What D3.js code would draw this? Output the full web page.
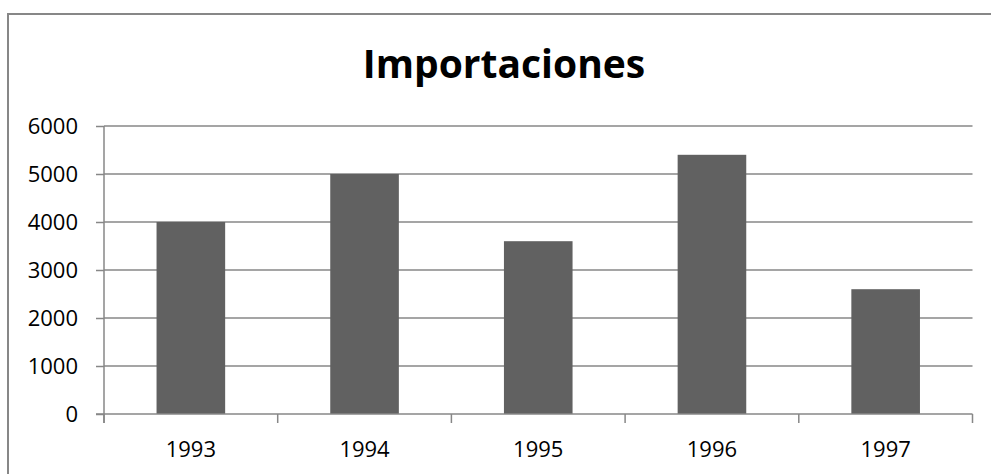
<!DOCTYPE html>
<html>
<head>
<meta charset="utf-8">
<script src="https://cdn.jsdelivr.net/npm/d3@7"></script>
<style>
  body { margin: 0; background: #fff; }
  svg { display: block; font-family: "Open Sans", sans-serif; }
</style>
</head>
<body>
<script>
// data
var years = ["1993", "1994", "1995", "1996", "1997"];
var importaciones = [4000, 5000, 3600, 5400, 2600];
var yTicks = [0, 1000, 2000, 3000, 4000, 5000, 6000];

var svgWidth = 991;
var svgHeight = 474;

var margin = { top: 126, right: 19, bottom: 60, left: 104 };
var width = 972.5 - margin.left;
var height = 414 - margin.top;

var svg = d3.select("body")
    .append("svg")
    .attr("width", svgWidth)
    .attr("height", svgHeight);

// outer frame (cropped at right and bottom)
svg.append("rect")
    .attr("x", 8)
    .attr("y", 14)
    .attr("width", 1100)
    .attr("height", 600)
    .attr("fill", "none")
    .attr("stroke", "#878787")
    .attr("stroke-width", 2);

// title
svg.append("text")
    .attr("x", 504)
    .attr("y", 78)
    .attr("text-anchor", "middle")
    .attr("font-size", "39px")
    .attr("font-weight", "bold")
    .attr("fill", "#000")
    .text("Importaciones");

var chartGroup = svg.append("g")
    .attr("transform", `translate(${margin.left}, ${margin.top})`);

var xScale = d3.scaleBand()
    .domain(years)
    .range([0, width])
    .paddingInner(0.605)
    .paddingOuter(0.3025);

var yScale = d3.scaleLinear()
    .domain([0, 6000])
    .range([height, 0]);

// gridlines
chartGroup.selectAll(".grid")
    .data(yTicks.slice(1))
    .enter()
    .append("line")
    .attr("x1", 0)
    .attr("x2", width)
    .attr("y1", d => yScale(d))
    .attr("y2", d => yScale(d))
    .attr("stroke", "#878787")
    .attr("stroke-width", 1.5);

// bars
chartGroup.selectAll("rect.bar")
    .data(importaciones)
    .enter()
    .append("rect")
    .attr("class", "bar")
    .attr("x", (d, i) => xScale(years[i]))
    .attr("width", xScale.bandwidth())
    .attr("y", d => yScale(d))
    .attr("height", d => height - yScale(d))
    .attr("fill", "#616161");

// y axis
var leftAxis = d3.axisLeft(yScale)
    .tickValues(yTicks)
    .tickFormat(d3.format("d"))
    .tickSize(8)
    .tickPadding(18);

var yAxis = chartGroup.append("g").call(leftAxis);
yAxis.select(".domain").attr("stroke", "#878787").attr("stroke-width", 1.5)
    .attr("d", `M0,${height + 9}V0`);
yAxis.selectAll(".tick line").attr("stroke", "#878787").attr("stroke-width", 1.5);
yAxis.selectAll(".tick text")
    .attr("font-size", "22px")
    .attr("font-family", "'Open Sans', sans-serif")
    .attr("fill", "#000");

// x axis with boundary ticks
var boundaries = d3.range(years.length + 1).map(i => i * width / years.length);

var xAxisG = chartGroup.append("g")
    .attr("transform", `translate(0, ${height})`);

xAxisG.append("line")
    .attr("x1", -8)
    .attr("x2", width)
    .attr("y1", 0)
    .attr("y2", 0)
    .attr("stroke", "#878787")
    .attr("stroke-width", 1.5);

xAxisG.selectAll(".xtick")
    .data(boundaries)
    .enter()
    .append("line")
    .attr("x1", d => d)
    .attr("x2", d => d)
    .attr("y1", 0)
    .attr("y2", 9)
    .attr("stroke", "#878787")
    .attr("stroke-width", 1.5);

xAxisG.selectAll(".xlabel")
    .data(years)
    .enter()
    .append("text")
    .attr("x", d => xScale(d) + xScale.bandwidth() / 2)
    .attr("y", 43)
    .attr("text-anchor", "middle")
    .attr("font-size", "22px")
    .attr("fill", "#000")
    .text(d => d);
</script>
</body>
</html>
